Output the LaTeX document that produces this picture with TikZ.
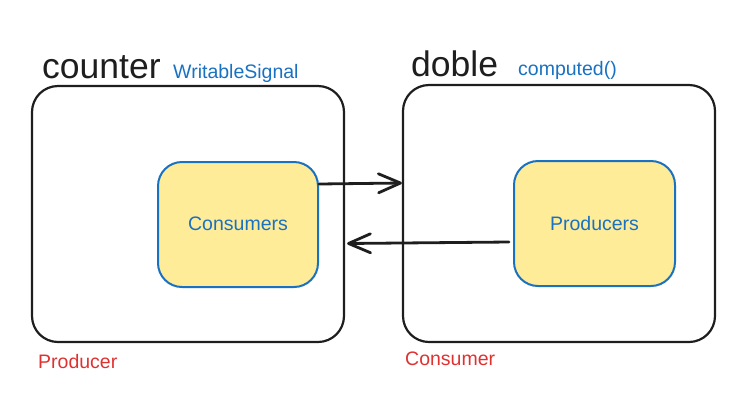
\documentclass[tikz,border=0pt]{standalone}
\usepackage{fontspec}
\setmainfont{Liberation Sans}
\usetikzlibrary{arrows.meta}
\definecolor{ink}{HTML}{1E1E1E}
\definecolor{sigblue}{HTML}{1971C2}
\definecolor{sigred}{HTML}{E03131}
\definecolor{sigyellow}{HTML}{FFEC99}
\tikzset{
  outerbox/.style={draw=ink, line width=2.2pt, rounded corners=26pt, inner sep=0pt},
  innerbox/.style={draw=sigblue, fill=sigyellow, line width=2pt, rounded corners=24pt, inner sep=0pt,
    text=sigblue, font=\fontsize{19.5}{22}\selectfont},
  bigname/.style={anchor=base west, inner sep=0pt, text=ink, font=\fontsize{35.5}{40}\selectfont},
  typename/.style={anchor=base west, inner sep=0pt, text=sigblue, font=\fontsize{19.5}{22}\selectfont},
  rolename/.style={anchor=base west, inner sep=0pt, text=sigred, font=\fontsize{19.5}{22}\selectfont},
  arr/.style={draw=ink, line width=2.8pt, line cap=round,
    -{Straight Barb[length=22pt,width=19pt,line width=2.8pt,round]}}
}
\begin{document}
\begin{tikzpicture}[x=1pt,y=-1pt]
\useasboundingbox (0,0) rectangle (746,408);
\node[outerbox, minimum width=312pt, minimum height=256pt] (outL) at (188,214) {};
\node[outerbox, minimum width=312pt, minimum height=257pt] (outR) at (559,213.5) {};
\node[innerbox, minimum width=160pt, minimum height=125pt] (inL) at (238,224.5) {\raisebox{1pt}{Consumers}};
\node[innerbox, minimum width=161pt, minimum height=125pt] (inR) at (594.5,223.5) {\raisebox{1pt}{Producers}};
\node[bigname] (tCounter) at (42,78) {counter};
\node[typename] (tWritable) at (173,78) {WritableSignal};
\node[bigname] (tDoble) at (411,76) {doble};
\node[typename] (tComputed) at (518,75) {computed()};
\node[rolename] (tProducer) at (38,368) {Producer};
\node[rolename] (tConsumer) at (405,365) {Consumer};
\draw[arr] ([yshift=40.5pt]inL.east) -- ([yshift=41.5pt]inL.east -| outR.west);
\draw[arr] ([yshift=-18.5pt,xshift=-4pt]inR.west) -- ([yshift=-20pt,xshift=2pt]inR.west -| outL.east);
\end{tikzpicture}
\end{document}
